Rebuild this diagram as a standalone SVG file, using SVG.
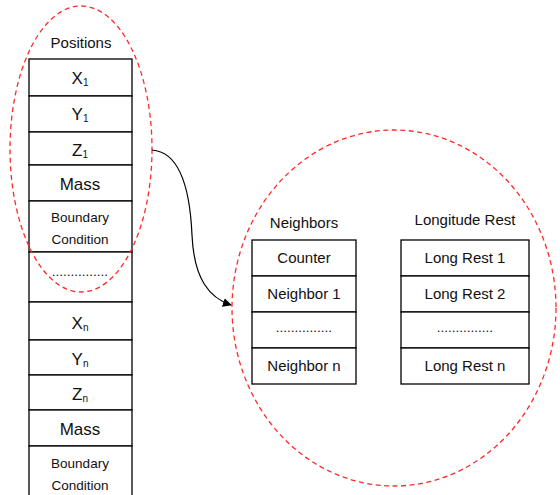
<svg xmlns="http://www.w3.org/2000/svg" width="560" height="495" viewBox="0 0 560 495">
  <defs>
    <style>
      .cell { fill: #ffffff; stroke: #000000; stroke-width: 1.3; }
      .txt { font-family: "Liberation Sans", Arial, sans-serif; font-size: 15px; fill: #111111; text-anchor: middle; }
      .big { font-size: 17px; }
      .sm { font-size: 13.5px; }
      .sub { font-size: 10px; }
      .hl { fill: none; stroke: #ff2a2a; stroke-width: 1.3; stroke-dasharray: 5 3.5; }
      .conn { fill: none; stroke: #000000; stroke-width: 1.2; }
    </style>
    <marker id="arrow" viewBox="0 0 10 10" refX="9" refY="5" markerWidth="9" markerHeight="9" markerUnits="userSpaceOnUse" orient="auto">
      <path d="M0,0 L10,5 L0,10 z" fill="#000000"/>
    </marker>
  </defs>

  <rect width="560" height="495" fill="#ffffff"/>

  <!-- Particle record array -->
  <g id="positions">
    <text class="txt" x="81" y="48">Positions</text>
    <rect class="cell" x="29" y="59" width="103" height="37"/>
    <rect class="cell" x="29" y="96" width="103" height="36"/>
    <rect class="cell" x="29" y="132" width="103" height="33"/>
    <rect class="cell" x="29" y="165" width="103" height="36"/>
    <rect class="cell" x="29" y="201" width="103" height="51"/>
    <rect class="cell" x="29" y="252" width="103" height="50"/>
    <rect class="cell" x="29" y="302" width="103" height="38"/>
    <rect class="cell" x="29" y="340" width="103" height="35"/>
    <rect class="cell" x="29" y="375" width="103" height="35"/>
    <rect class="cell" x="29" y="410" width="103" height="36"/>
    <rect class="cell" x="29" y="446" width="103" height="60"/>

    <text class="txt big" x="80" y="84">X<tspan class="sub" dy="2">1</tspan></text>
    <text class="txt big" x="80" y="120">Y<tspan class="sub" dy="2">1</tspan></text>
    <text class="txt big" x="80" y="156">Z<tspan class="sub" dy="2">1</tspan></text>
    <text class="txt big" x="80" y="190">Mass</text>
    <text class="txt sm" x="80" y="222">Boundary</text>
    <text class="txt sm" x="80" y="244">Condition</text>
    <text class="txt sm" x="80" y="276">...............</text>
    <text class="txt big" x="80" y="329">X<tspan class="sub" dy="2">n</tspan></text>
    <text class="txt big" x="80" y="365">Y<tspan class="sub" dy="2">n</tspan></text>
    <text class="txt big" x="80" y="400">Z<tspan class="sub" dy="2">n</tspan></text>
    <text class="txt big" x="80" y="435">Mass</text>
    <text class="txt sm" x="80" y="468">Boundary</text>
    <text class="txt sm" x="80" y="490">Condition</text>
  </g>

  <!-- Neighbor list -->
  <g id="neighbors">
    <text class="txt" x="304" y="228">Neighbors</text>
    <rect class="cell" x="252" y="240" width="104" height="36"/>
    <rect class="cell" x="252" y="276" width="104" height="36"/>
    <rect class="cell" x="252" y="312" width="104" height="36"/>
    <rect class="cell" x="252" y="348" width="104" height="36"/>
    <text class="txt" x="304" y="263">Counter</text>
    <text class="txt" x="304" y="299">Neighbor 1</text>
    <text class="txt sm" x="304" y="332">...............</text>
    <text class="txt" x="304" y="371">Neighbor n</text>
  </g>

  <!-- Rest lengths -->
  <g id="longitude-rest">
    <text class="txt" x="465" y="225">Longitude Rest</text>
    <rect class="cell" x="401" y="240" width="128" height="36"/>
    <rect class="cell" x="401" y="276" width="128" height="36"/>
    <rect class="cell" x="401" y="312" width="128" height="36"/>
    <rect class="cell" x="401" y="348" width="128" height="36"/>
    <text class="txt" x="465" y="263">Long Rest 1</text>
    <text class="txt" x="465" y="299">Long Rest 2</text>
    <text class="txt sm" x="465" y="332">...............</text>
    <text class="txt" x="465" y="371">Long Rest n</text>
  </g>

  <!-- Highlight outlines -->
  <g id="highlights">
    <ellipse class="hl" cx="81" cy="149" rx="71" ry="143"/>
    <ellipse class="hl" cx="394" cy="308" rx="162" ry="178"/>
  </g>

  <!-- Connectors -->
  <g id="connectors">
    <path class="conn" d="M152,150 C180,152 190,190 192,235 C194,280 210,298 231,305" marker-end="url(#arrow)"/>
  </g>
</svg>
